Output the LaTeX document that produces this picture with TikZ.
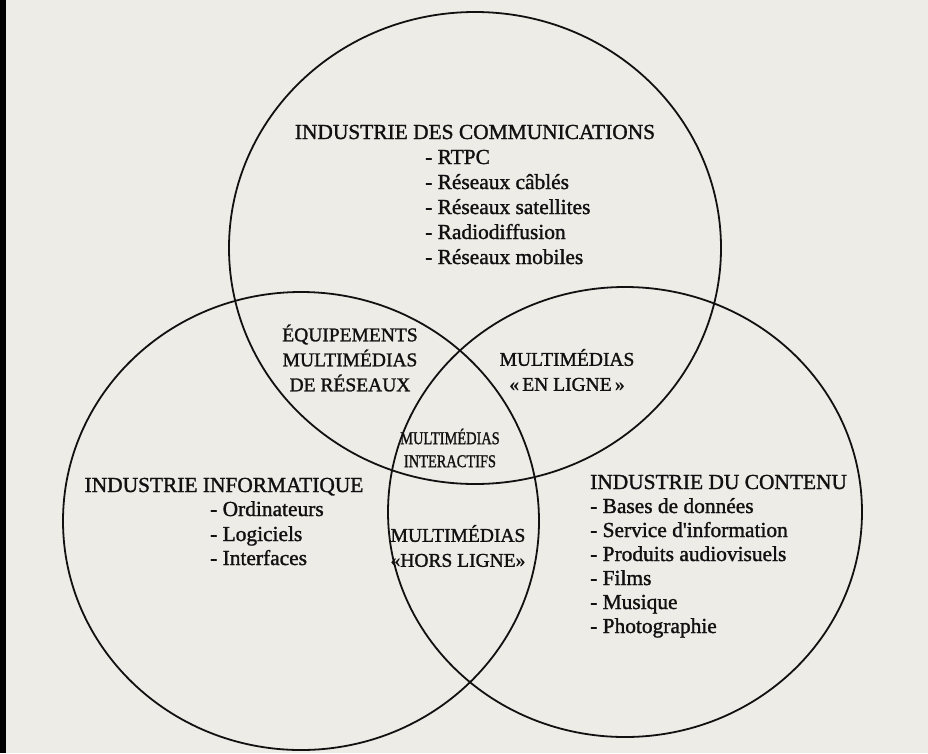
\documentclass[tikz,border=0pt]{standalone}
\usepackage{graphicx}
\usepackage{fontspec}
\setmainfont{Liberation Serif}[FakeBold=1.4]
\definecolor{paper}{HTML}{EEECE7}
\definecolor{ink}{HTML}{111111}
\newcommand{\narrowtext}[1]{\scalebox{0.8}[1]{#1}}
\begin{document}
\begin{tikzpicture}[x=1pt,y=-1pt,
  ring/.style={draw=ink,line width=1.8pt},
  big/.style={font=\fontsize{21.4}{25}\selectfont,text=ink,inner sep=0pt},
  mid/.style={font=\fontsize{19.5}{25}\selectfont,text=ink,inner sep=0pt,align=center},
  small/.style={font=\fontsize{18}{23}\selectfont,text=ink,inner sep=0pt,align=center},
]
\fill[paper] (0,0) rectangle (928,753);
\useasboundingbox (0,0) rectangle (928,753);
\fill[black] (0,0) rectangle (6,753);
% circles
\draw[ring] (475,248) ellipse [x radius=246, y radius=236];
\draw[ring] (301,521) ellipse [x radius=238, y radius=229];
\draw[ring] (625,512) ellipse [x radius=237, y radius=225];
% communications
\node[big,anchor=base] (comm) at (475,139) {INDUSTRIE DES COMMUNICATIONS};
\node[big,anchor=base west] (c1) at (425,164) {- RTPC};
\node[big,anchor=base west] (c2) at (425,189) {- Réseaux câblés};
\node[big,anchor=base west] (c3) at (425,214) {- Réseaux satellites};
\node[big,anchor=base west] (c4) at (425,239) {- Radiodiffusion};
\node[big,anchor=base west] (c5) at (425,264) {- Réseaux mobiles};
% intersections
\node[mid] (equip) at (350,358) {ÉQUIPEMENTS\\MULTIMÉDIAS\\DE RÉSEAUX};
\node[mid] (enligne) at (567,370) {MULTIMÉDIAS\\«\,EN LIGNE\,»};
\node[small] (inter) at (450,448) {\narrowtext{MULTIMÉDIAS}\\\narrowtext{INTERACTIFS}};
\node[mid] (hors) at (458,546) {MULTIMÉDIAS\\«HORS LIGNE»};
% informatique
\node[big,anchor=base] (info) at (224,492) {INDUSTRIE INFORMATIQUE};
\node[big,anchor=base west] (i1) at (210,516) {- Ordinateurs};
\node[big,anchor=base west] (i2) at (210,541) {- Logiciels};
\node[big,anchor=base west] (i3) at (210,565) {- Interfaces};
% contenu
\node[big,anchor=base west] (cont) at (590,489) {INDUSTRIE DU CONTENU};
\node[big,anchor=base west] (k1) at (590,513) {- Bases de données};
\node[big,anchor=base west] (k2) at (590,537) {- Service d\textquotesingle information};
\node[big,anchor=base west] (k3) at (590,561) {- Produits audiovisuels};
\node[big,anchor=base west] (k4) at (590,585) {- Films};
\node[big,anchor=base west] (k5) at (590,609) {- Musique};
\node[big,anchor=base west] (k6) at (590,633) {- Photographie};
\end{tikzpicture}
\end{document}
